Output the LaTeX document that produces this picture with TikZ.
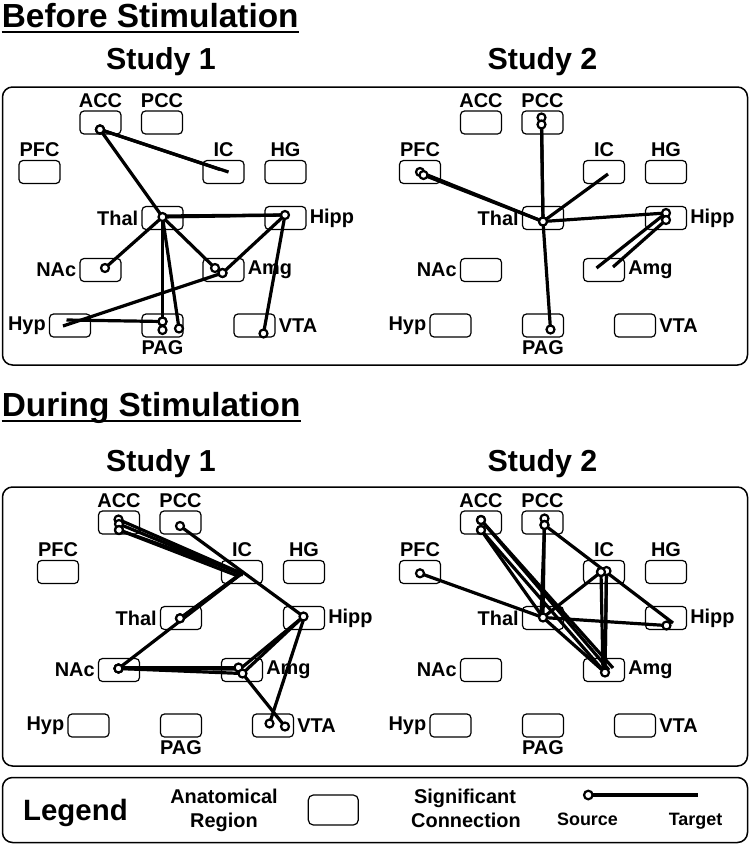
\documentclass[tikz,border=0pt]{standalone}
\usepackage{fontspec}
\setmainfont{Liberation Sans}

\tikzset{
region/.style={draw,rounded corners=4bp,line width=1.2bp,
  minimum width=41bp,minimum height=23bp,inner sep=0pt},
lbl/.style={font=\bfseries\fontsize{20}{22}\selectfont,inner sep=3bp},
panel/.style={draw,rounded corners=10bp,line width=1.5bp},
conn/.style={line width=3.2bp},
dot/.style={draw,fill=white,line width=2.2bp},
title/.style={font=\bfseries\fontsize{33.5}{40}\selectfont,inner sep=0pt,anchor=base west},
uline/.style={line width=2bp},
study/.style={font=\bfseries\fontsize{30.5}{36}\selectfont,inner sep=0pt,anchor=base},
legtext/.style={font=\bfseries\fontsize{20}{24}\selectfont,inner sep=0pt,anchor=base},
legsmall/.style={font=\bfseries\fontsize{18}{20}\selectfont,inner sep=0pt,anchor=base}
}

% source/dx/dy/target/dx/dy, circle at the source
\newcommand{\links}[2]{%
\foreach \s/\sx/\sy/\t/\tx/\ty in {#2}
{
\draw[conn] ([shift={(\sx,\sy)}]#1-\s.center) -- ([shift={(\tx,\ty)}]#1-\t.center);
}
\foreach \s/\sx/\sy/\t/\tx/\ty in {#2}
{
\draw[dot] ([shift={(\sx,\sy)}]#1-\s.center) circle (4);
}
}

\begin{document}
\begin{tikzpicture}[x=1bp,y=-1bp]

\path[fill=white,use as bounding box] (0,0) rectangle (750,844);

% Titres
\node[title] (t-before) at (1.7,27.7) {Before Stimulation};
\draw[uline] ([shift={(0,4.6)}]t-before.base west) -- ([shift={(0,4.6)}]t-before.base east);
\node[title] (t-during) at (1.7,416.7) {During Stimulation};
\draw[uline] ([shift={(0,4.6)}]t-during.base west) -- ([shift={(0,4.6)}]t-during.base east);

\node[study] (s-a) at (161,69) {Study 1};
\node[study] (s-b) at (542.5,69) {Study 2};
\node[study] (s-c) at (161,471) {Study 1};
\node[study] (s-d) at (542.5,471) {Study 2};

\draw[panel] (2.5,87) rectangle (747.5,365);
\draw[panel] (2.5,487) rectangle (747.5,766);

% Regions
\foreach \p/\dx/\dy in {A/0/0,B/380.5/0,C/18.5/400,D/380.5/400}
{
\begin{scope}[shift={(\dx,\dy)}]
\foreach \n/\x/\y/\a/\b in {%
ACC/100.5/122.5/south/north,PCC/162/122.5/south/north,%
PFC/39.5/172/south/north,IC/223.5/172/south/north,%
HG/285.5/172/south/north,Thal/162.5/218/east/west,%
Hipp/285.5/218/west/east,NAc/100.5/270/east/west,%
Amg/223.5/270/west/east,Hyp/70/325.5/east/west,%
PAG/162.5/325.5/north/south,VTA/254.5/325.5/west/east}
{
\node[region] (\p-\n) at (\x,\y) {};
\node[lbl,anchor=\a] (\p-\n-txt) at (\p-\n.\b) {\n};
}
\end{scope}
}

% Avant, etude 1
\links{A}{
ACC/-0.5/7/IC/5/0,ACC/-0.5/7/IC/-3.5/-2.5,
ACC/-0.5/7/Thal/0/-1,Hipp/-0.5/-3/Thal/0/-2,
Thal/0/-1/Hipp/-0.5/-3,NAc/4.5/-2/Thal/0/-1,
Amg/-8.5/-2/Thal/0/-1,Amg/-1/3/Hipp/-0.5/-3,
Amg/-1/3/Hyp/-7/0.5,PAG/0/-4/Hyp/-3.5/-5.5,
PAG/0/-4/Thal/0/-1,PAG/0/4.5/Thal/0/-1,
PAG/16.5/3/Thal/0/-1,VTA/9/8/Hipp/-0.5/-3}

% Avant, etude 2
\links{B}{
PCC/-1/-5/Thal/0/3.5,PCC/-1/2/Thal/0/3.5,
PFC/0/0/Thal/0/3.5,PFC/3.5/3/Thal/0/3.5,
Thal/0/3.5/IC/4/2,Thal/0/3.5/Hipp/0/-5,
Hipp/0/-5/Amg/-7.5/-2,Hipp/0/2/Amg/9/-3,
PAG/7.5/4/Thal/0/3.5}

% Pendant, etude 1
\links{C}{
ACC/-0.5/-3/IC/0/1.5,ACC/0/1.5/IC/1/3,
ACC/0/7.5/IC/-4/4,ACC/0/7.5/IC/0/1.5,
PCC/-0.5/3.5/Hipp/-0.5/-1.5,Thal/-1/0.3/IC/0/1.5,
Thal/-1/0.3/IC/-3/3,NAc/-0.5/-1.5/IC/-1/2,
NAc/-0.5/-1.5/Amg/0.5/3.5,NAc/-0.5/-1.5/Amg/-3/-1,
Amg/-3.5/-2.5/NAc/1/-2.5,Amg/0.5/3.5/Hipp/-0.5/-1.5,
Hipp/-0.5/-1.5/Amg/-2/-1,VTA/-3.5/-2/Hipp/0/0,
VTA/12/1/Amg/0.5/3.5}

% Pendant, etude 2
\links{D}{
ACC/0/-2.5/Amg/9/-2,ACC/0/-2.5/Amg/5/0,
ACC/0/7.5/Amg/1/2.5,ACC/0/7.5/Thal/0/-0.5,
PCC/2/-4/Thal/0/-0.5,PCC/2/2.5/Thal/-2/-0.5,
PCC/2/2.5/Hipp/7/5,PFC/0/1.3/Thal/0/-0.5,
Hipp/0.5/7.5/Thal/0/-0.5,IC/-3/0/Thal/0/-0.5,
IC/2.5/-1/Amg/1/2.5,IC/-3/0/Amg/-1/2.5,
Thal/0/-0.5/Amg/1/2.5,Amg/1/2.5/IC/2.5/-1}

% Legende
\draw[panel] (2.5,777.5) rectangle (747.5,842.5);
\node[font=\bfseries\fontsize{29.5}{34}\selectfont,inner sep=0pt,anchor=base west]
  (lg-title) at (23,820) {Legend};
\node[legtext] (lg-anat) at (224,803) {Anatomical};
\node[legtext] (lg-reg) at (224,827) {Region};
\node[region,minimum width=50bp,minimum height=30bp,rounded corners=5bp]
  (lg-box) at (333.3,810) {};
\node[legtext] (lg-sig) at (465,803) {Significant};
\node[legtext] (lg-con) at (466,827) {Connection};
\coordinate (lg-src) at (588.3,795);
\coordinate (lg-tgt) at (698.3,795);
\draw[conn] (lg-src) -- (lg-tgt);
\draw[dot] (lg-src) circle (4.3);
\node[legsmall] (lg-s) at (587.5,825) {Source};
\node[legsmall] (lg-t) at (695.5,825) {Target};

\end{tikzpicture}
\end{document}
